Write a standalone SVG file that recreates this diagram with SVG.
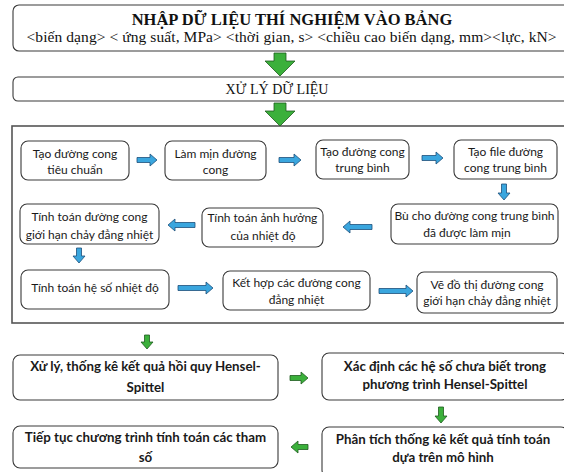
<svg xmlns="http://www.w3.org/2000/svg" width="564" height="472" viewBox="0 0 564 472">
<style>
.bx{fill:#fff;stroke:#3a3a3a;stroke-width:1.1}
.big{fill:#fff;stroke:#555;stroke-width:1.6}
.t{font-family:Lato,"Noto Sans",sans-serif;font-size:12px;fill:#1a1a1a;text-anchor:middle}
.tb{font-family:Lato,"Noto Sans",sans-serif;font-size:13.3px;font-weight:bold;fill:#1a1a1a;text-anchor:middle}
.sf{font-family:"Liberation Serif",serif;fill:#111;text-anchor:middle}
.ab{fill:#3aa6de;stroke:#1d4f7a;stroke-width:0.8}
.ag{fill:#3bb03b;stroke:#1f5c1f;stroke-width:0.8}
</style>
<rect width="564" height="472" fill="#fff"/>
<g id="n-input">
<rect class="bx" x="13" y="5" width="560" height="46" rx="6"/>
<text class="sf" x="292" y="25" font-size="16.5" font-weight="bold">NHẬP DỮ LIỆU THÍ NGHIỆM VÀO BẢNG</text>
<text class="sf" x="291.5" y="42" font-size="15.5" textLength="530">&lt;biến dạng&gt; &lt; ứng suất, MPa&gt; &lt;thời gian, s&gt; &lt;chiều cao biến dạng, mm&gt;&lt;lực, kN&gt;</text>
</g>
<g id="n-process">
<rect class="bx" x="13" y="77" width="560" height="24" rx="5"/>
<text class="sf" x="277" y="94" font-size="14">XỬ LÝ DỮ LIỆU</text>
</g>
<g id="n-group">
<rect class="big" x="12" y="126" width="560" height="197"/>
</g>
<g id="n-a"><rect class="bx" x="21" y="141" width="108" height="39" rx="7"/>
<text class="t" x="75" y="158">Tạo đường cong</text><text class="t" x="75" y="174">tiêu chuẩn</text></g>
<g id="n-b"><rect class="bx" x="165" y="141" width="101" height="39" rx="7"/>
<text class="t" x="215.5" y="158">Làm mịn đường</text><text class="t" x="215.5" y="174">cong</text></g>
<g id="n-c"><rect class="bx" x="316" y="140" width="93" height="39" rx="7"/>
<text class="t" x="362.5" y="156">Tạo đường cong</text><text class="t" x="362.5" y="172">trung bình</text></g>
<g id="n-d"><rect class="bx" x="454" y="140" width="103" height="39" rx="7"/>
<text class="t" x="505.5" y="156">Tạo file đường</text><text class="t" x="505.5" y="172">cong trung bình</text></g>
<g id="n-e"><rect class="bx" x="391" y="204" width="167" height="40" rx="7"/>
<text class="t" x="474.5" y="220">Bù cho đường cong trung bình</text><text class="t" x="467" y="237">đã được làm mịn</text></g>
<g id="n-f"><rect class="bx" x="202" y="208" width="121" height="39" rx="7"/>
<text class="t" x="262.5" y="222">Tính toán ảnh hưởng</text><text class="t" x="263" y="240">của nhiệt độ</text></g>
<g id="n-g"><rect class="bx" x="20" y="204" width="139" height="40" rx="7"/>
<text class="t" x="89.5" y="221">Tính toán đường cong</text><text class="t" x="89.5" y="239">giới hạn chảy đẳng nhiệt</text></g>
<g id="n-h"><rect class="bx" x="21" y="270" width="148" height="39" rx="7"/>
<text class="t" x="95" y="292">Tính toán hệ số nhiệt độ</text></g>
<g id="n-i"><rect class="bx" x="223" y="271" width="147" height="39" rx="7"/>
<text class="t" x="296.5" y="287">Kết hợp các đường cong</text><text class="t" x="296.5" y="304">đẳng nhiệt</text></g>
<g id="n-j"><rect class="bx" x="417" y="272" width="140" height="41" rx="7"/>
<text class="t" x="487" y="289">Vẽ đồ thị đường cong</text><text class="t" x="487" y="305">giới hạn chảy đẳng nhiệt</text></g>
<g id="n-k"><rect class="bx" x="13" y="355" width="265" height="45" rx="7"/>
<text class="tb" x="145.5" y="371">Xử lý, thống kê kết quả hồi quy Hensel-</text><text class="tb" x="145.5" y="392">Spittel</text></g>
<g id="n-l"><rect class="bx" x="322" y="353" width="246" height="47" rx="7"/>
<text class="tb" x="445" y="371">Xác định các hệ số chưa biết trong</text><text class="tb" x="445" y="389">phương trình Hensel-Spittel</text></g>
<g id="n-m"><rect class="bx" x="322" y="427" width="246" height="50" rx="7"/>
<text class="tb" x="443" y="444">Phân tích thống kê kết quả tính toán</text><text class="tb" x="443" y="462">dựa trên mô hình</text></g>
<g id="n-n"><rect class="bx" x="13" y="426" width="265" height="42" rx="7"/>
<text class="tb" x="145.5" y="442">Tiếp tục chương trình tính toán các tham</text><text class="tb" x="145.5" y="462">số</text></g>
<g id="connectors">
<path class="ag" d="M274,53 L286,53 L286,61 L295,61 L280,76 L265,61 L274,61Z"/>
<path class="ag" d="M274,103 L286,103 L286,111 L295,111 L280,126 L265,111 L274,111Z"/>
<path class="ab" d="M137,157.5 L150,157.5 L150,154 L157,160 L150,166 L150,162.5 L137,162.5Z"/>
<path class="ab" d="M279,157.5 L294,157.5 L294,154 L301,160 L294,166 L294,162.5 L279,162.5Z"/>
<path class="ab" d="M422,155.5 L436,155.5 L436,152 L443,158 L436,164 L436,160.5 L422,160.5Z"/>
<path class="ab" d="M501.5,184 L506.5,184 L506.5,193 L510,193 L504,200 L498,193 L501.5,193Z"/>
<path class="ab" d="M372,224.5 L350,224.5 L350,221 L343,227 L350,233 L350,229.5 L372,229.5Z"/>
<path class="ab" d="M195,222.5 L175,222.5 L175,219 L168,225 L175,231 L175,227.5 L195,227.5Z"/>
<path class="ab" d="M76.5,248 L81.5,248 L81.5,256 L85,256 L79,263 L73,256 L76.5,256Z"/>
<path class="ab" d="M178,285.5 L206,285.5 L206,282 L213,288 L206,294 L206,290.5 L178,290.5Z"/>
<path class="ab" d="M379,288.5 L406,288.5 L406,285 L413,291 L406,297 L406,293.5 L379,293.5Z"/>
<path class="ag" d="M144.5,335 L149.5,335 L149.5,342 L153,342 L147,349 L141,342 L144.5,342Z"/>
<path class="ag" d="M290,375.5 L301,375.5 L301,372 L308,378 L301,384 L301,380.5 L290,380.5Z"/>
<path class="ag" d="M438.5,407 L443.5,407 L443.5,416 L447,416 L441,423 L435,416 L438.5,416Z"/>
<path class="ag" d="M308,444.5 L298,444.5 L298,441 L291,447 L298,453 L298,449.5 L308,449.5Z"/>
</g>
</svg>
